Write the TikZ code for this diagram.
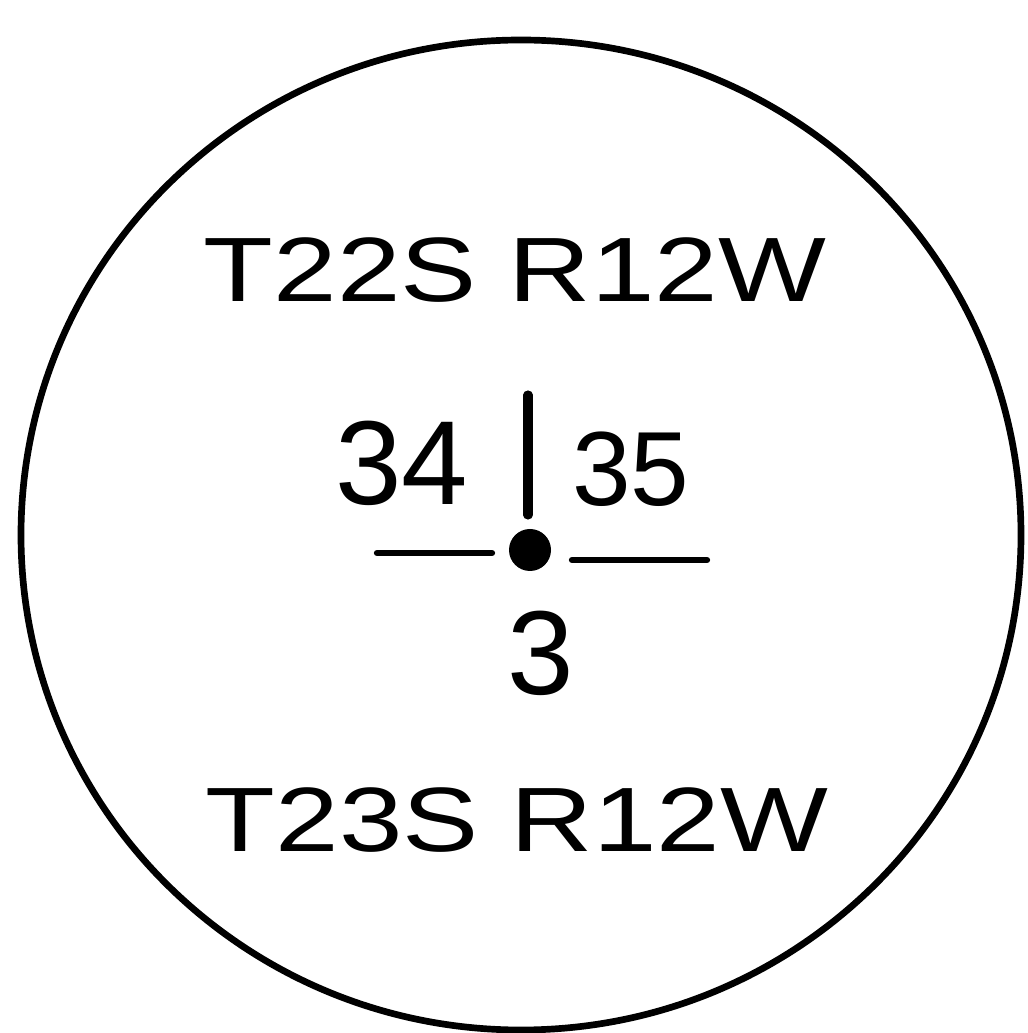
\documentclass[tikz,border=0pt]{standalone}
\usepackage{fontspec}
\setmainfont{Liberation Sans}
\usepackage{tikz}
\usetikzlibrary{positioning}

\begin{document}
\begin{tikzpicture}[
  twp/.style={inner sep=0pt, font=\fontsize{26}{30}\selectfont, xscale=1.25, transform shape},
  secno/.style={inner sep=0pt, font=\fontsize{34}{38}\selectfont},
  ink/.style={line width=1.8pt, line cap=round}
]
\useasboundingbox (0,0) rectangle (10.27,10.33);
\draw[line width=1.9pt] (5.21,4.98) ellipse [x radius=5.0, y radius=4.95];

\node[twp] (top) at (5.15,7.63) {T22S R12W};
\node[twp] (bot) at (5.17,2.13) {T23S R12W};

\node[secno] (sw) at (4.02,5.70) {34};
\node[secno, font=\fontsize{30}{34}\selectfont] (se) at (6.31,5.64) {35};
\node[secno] (cnr) at (5.41,3.80) {3};

% section corner
\node[circle, fill, inner sep=0pt, minimum size=0.42cm] (dot) at (5.30,4.83) {};
\coordinate (ntop) at (5.28,6.38);
\coordinate (nbot) at (5.28,5.18);
\coordinate (wl) at (3.77,4.80);
\coordinate (wr) at (4.92,4.80);
\coordinate (el) at (5.72,4.73);
\coordinate (er) at (7.07,4.73);
\draw[ink, line width=2.6pt] (ntop) -- (nbot);
\draw[ink] (wl) -- (wr);
\draw[ink] (el) -- (er);
\end{tikzpicture}
\end{document}
